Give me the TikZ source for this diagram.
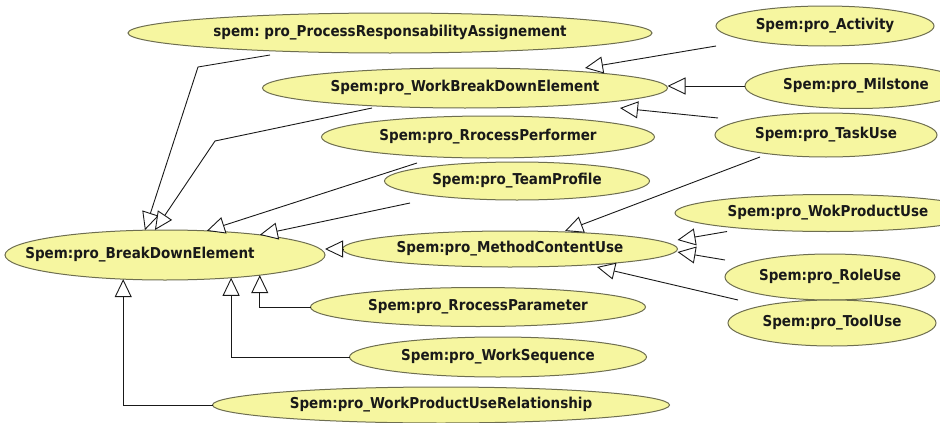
\documentclass[tikz,border=0pt]{standalone}
\usepackage{fontspec}
\setmainfont{DejaVu Sans Condensed}
\usetikzlibrary{shapes.geometric,arrows.meta,calc}
\definecolor{elfill}{RGB}{246,246,160}
\definecolor{eldraw}{RGB}{110,110,80}
\definecolor{linec}{RGB}{25,25,25}
\frenchspacing
\begin{document}
\begin{tikzpicture}[x=1pt,y=-1pt,
  el/.style={ellipse,draw=eldraw,fill=elfill,line width=1pt,inner sep=0pt,outer sep=0pt},
  every label/.style={font=\bfseries\fontsize{15}{17}\selectfont\frenchspacing,text=black!90,inner sep=0pt},
  inh/.style={draw=linec,line width=0.9pt,-{Triangle[length=18pt,width=17pt,fill=white]}}]
\fill[white] (0,0) rectangle (940,423);
\useasboundingbox (0,0) rectangle (940,423);
\clip (0,0) rectangle (940,423);
% nodes
\node[el,minimum width=524pt,minimum height=40pt,label=center:{spem: pro\_ProcessResponsabilityAssignement}] (pra) at (390,33) {};
\node[el,minimum width=405pt,minimum height=40pt,label=center:{Spem:pro\_WorkBreakDownElement}] (wbe) at (465,88) {};
\node[el,minimum width=333pt,minimum height=42pt,label=center:{Spem:pro\_RrocessPerformer}] (rpf) at (488,137) {};
\node[el,minimum width=265pt,minimum height=38pt,label=center:{Spem:pro\_TeamProfile}] (tpf) at (517,181) {};
\node[el,minimum width=320pt,minimum height=50pt,label={[xshift=-25pt]center:{Spem:pro\_BreakDownElement}}] (bde) at (165,255) {};
\node[el,minimum width=335pt,minimum height=36pt,label=center:{Spem:pro\_MethodContentUse}] (mcu) at (510,249) {};
\node[el,minimum width=335pt,minimum height=39pt,label=center:{Spem:pro\_RrocessParameter}] (rpar) at (478,307) {};
\node[el,minimum width=297pt,minimum height=40pt,label=center:{Spem:pro\_WorkSequence}] (wseq) at (498,357) {};
\node[el,minimum width=457pt,minimum height=36pt,label=center:{Spem:pro\_WorkProductUseRelationship}] (wpur) at (441,405) {};
\node[el,minimum width=218pt,minimum height=40pt,label=center:{Spem:pro\_Activity}] (act) at (825,26) {};
\node[el,minimum width=222pt,minimum height=45pt,label=center:{Spem:pro\_Milstone}] (mil) at (856,86) {};
\node[el,minimum width=222pt,minimum height=44pt,label=center:{Spem:pro\_TaskUse}] (tsk) at (826,135) {};
\node[el,minimum width=306pt,minimum height=37pt,label=center:{Spem:pro\_WokProductUse}] (wpu) at (828,213) {};
\node[el,minimum width=210pt,minimum height=46pt,label=center:{Spem:pro\_RoleUse}] (rol) at (830,277) {};
\node[el,minimum width=208pt,minimum height=46pt,label=center:{Spem:pro\_ToolUse}] (tol) at (832,323) {};
% connectors to BreakDownElement
\draw[inh] ($(pra.south)+(-120,2)$) -- ($(pra.south)+(-192,14)$) -- (bde.129);
\draw[inh] ($(wbe.south)+(-93,0)$) -- ($(wbe.south)+(-250,33)$) -- (bde.112);
\draw[inh] ($(rpf.south)+(-71,5)$) -- (bde.30);
\draw[inh] ($(tpf.south)+(-107,3)$) -- (bde.12);
\draw[inh] (mcu.west) -- (bde.east |- mcu.west);
\draw[inh] (rpar.west) -| (bde.348);
\draw[inh] (wseq.west) -| (bde.341);
\draw[inh] (wpur.west) -| (bde.210);
% connectors to WorkBreakDownElement
\draw[inh] (act.south -| act.west) -- ($(wbe.north)+(120,0)$);
\draw[inh] (mil.west) -- (wbe.east |- mil.west);
\draw[inh] ($(tsk.west)+(3,-17)$) -- ($(wbe.south)+(155,0)$);
% connectors to MethodContentUse
\draw[inh] ($(tsk.south)+(-66,0)$) -- ($(mcu.north)+(55,0)$);
\draw[inh] ($(wpu.south)+(-101,0)$) -- ($(mcu.east)+(0,-9)$);
\draw[inh] ($(rol.west)+(0,-17)$) -- ($(mcu.east)+(0,3)$);
\draw[inh] ($(tol.north)+(-94,0)$) -- ($(mcu.south)+(87,0)$);
\end{tikzpicture}
\end{document}
